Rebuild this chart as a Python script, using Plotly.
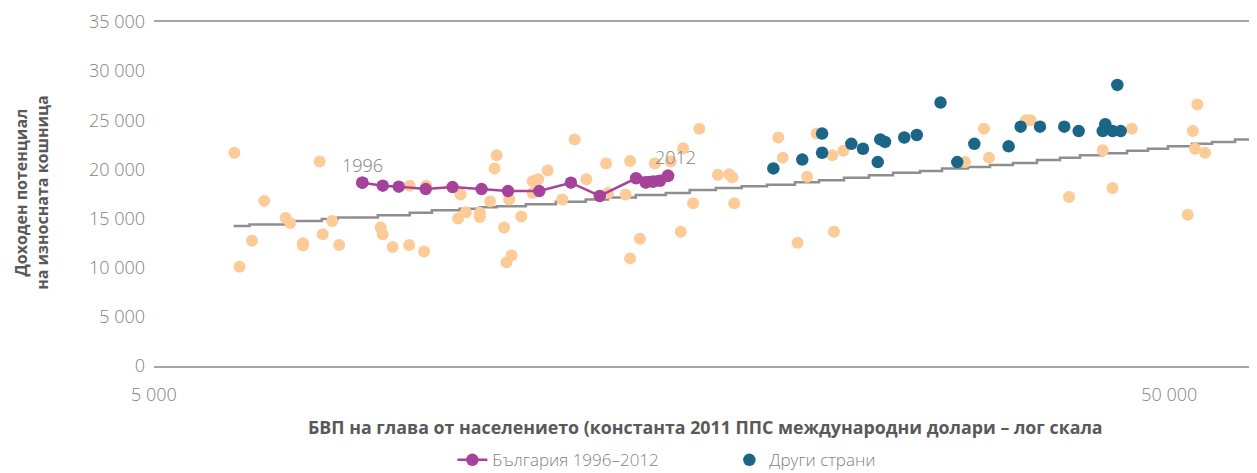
import math
import plotly.graph_objects as go

# ---- data ----
# Other countries (light orange, no legend entry): GDP per capita, export-basket income potential
other_gdp = [6000, 6070, 6245, 6420, 6740, 6810, 7010, 7010, 7280, 7330, 7490, 7610,
             8360, 8400, 8590, 8920, 8930, 9270, 9225, 10020, 9965, 10140, 10470, 10470,
             10715, 10875, 10825, 11190, 11060, 11120, 11250, 11500, 11800, 11950, 11800,
             12210, 12980, 12620, 13330, 13940, 14000, 14570, 14720, 15050, 14720, 15570,
             16140, 16600, 16510, 16980, 17220, 17960, 18430, 18560, 18640, 20600, 20810,
             21520, 21990, 22470, 23280, 23870, 23370, 31460, 32840, 33220, 36120, 36510,
             39830, 42990, 43950, 45920, 52130, 52730, 53280, 53000, 54220]
other_val = [21700, 10100, 12750, 16800, 15050, 14550, 12500, 12250, 20800, 13400, 14750, 12300,
             14100, 13400, 12100, 12300, 18350, 18350, 11650, 17450, 15000, 15650, 15600, 15150,
             16750, 21450, 20100, 16950, 14100, 10550, 11250, 15200, 18800, 19000, 17600,
             19900, 23050, 16950, 19000, 20600, 17600, 17450, 20850, 12950, 10950, 20600,
             20800, 22150, 13650, 16550, 24150, 19450, 19500, 19200, 16550, 23250, 21200,
             12550, 19250, 23650, 21450, 21900, 13650, 20750, 24150, 21200, 25000, 25000,
             17200, 21950, 18100, 24150, 15400, 23900, 26600, 22100, 21700]

# "Други страни" (dark blue)
peer_gdp = [20370, 21750, 22750, 22750, 24310, 24960, 25810, 25960, 26240, 27410, 28200,
            29760, 30910, 32130, 34730, 35690, 37290, 39400, 40710, 43240, 42990, 43970,
            44780, 44440]
peer_val = [20100, 21000, 23650, 21700, 22600, 22100, 20750, 23050, 22800, 23250, 23500,
            26800, 20750, 22600, 22350, 24350, 24350, 24350, 23900, 24600, 23900, 23900,
            23900, 28600]

# Bulgaria 1996-2012
bg_years = list(range(1996, 2013))
bg_gdp = [8020, 8020, 8400, 8710, 9260, 9840, 10510, 11160, 11980, 12870, 13740,
          14920, 16040, 15250, 15500, 15750, 16040]
bg_val = [18650, 18650, 18350, 18250, 18000, 18200, 18000, 17800, 17800, 18650, 17300,
          19100, 19350, 18650, 18750, 18850, 19350]

# Expected income potential (grey step line)
fit_gdp = [5990, 6210, 6730, 7315, 7585, 8305, 8930, 9390, 10000, 10470, 10880, 11620,
           12440, 13310, 14000, 14910, 15960, 16850, 17880, 18960, 20080, 21390, 22590,
           23910, 25300, 26720, 28410, 29860, 31670, 33290, 35070, 37040, 39020, 40830,
           43020, 45430, 47640, 49850, 52640, 55090, 58040, 61000]
fit_val = [14250, 14400, 14750, 14950, 15100, 15350, 15600, 15850, 16000, 16150, 16250,
           16450, 16700, 16950, 17150, 17400, 17600, 17900, 18100, 18300, 18450, 18700,
           18900, 19150, 19400, 19650, 19850, 20100, 20250, 20450, 20650, 20950, 21200,
           21450, 21650, 21900, 22100, 22350, 22600, 22800, 23050, 23250]

y_ticks = [0, 5000, 10000, 15000, 20000, 25000, 30000, 35000]
x_ticks = [5000, 50000]
x_min, x_max = 5000, 61000

ORANGE = "#FCCB97"
BLUE = "#1B6587"
PURPLE = "#A5439A"
GREY_LINE = "#8E8E8E"
AXIS = "#A6A6A6"
TXT = "#7F7F7F"
TITLE = "#595959"
FONT = "Open Sans"

fig = go.Figure()
fig.add_trace(go.Scatter(x=fit_gdp, y=fit_val, mode="lines", line=dict(color=GREY_LINE, width=2.5, shape="hv"),
                         showlegend=False, hoverinfo="skip"))
fig.add_trace(go.Scatter(x=other_gdp, y=other_val, mode="markers",
                         marker=dict(color=ORANGE, size=12), showlegend=False))
fig.add_trace(go.Scatter(x=peer_gdp, y=peer_val, mode="markers", name="Други страни",
                         marker=dict(color=BLUE, size=12.5), legendrank=2))
fig.add_trace(go.Scatter(x=bg_gdp, y=bg_val, mode="lines+markers", name="България 1996–2012",
                         line=dict(color=PURPLE, width=2.5), marker=dict(color=PURPLE, size=12.5),
                         legendrank=1))

fig.add_annotation(x=math.log10(bg_gdp[0]), y=bg_val[0], text=str(bg_years[0]), showarrow=False,
                   yshift=18, font=dict(family=FONT, size=18, color=TXT, weight=300))
fig.add_annotation(x=math.log10(bg_gdp[-1]), y=bg_val[-1], text=str(bg_years[-1]), showarrow=False,
                   xshift=8, yshift=19, font=dict(family=FONT, size=18, color=TXT, weight=300))

fig.add_annotation(xref="paper", yref="paper", x=0.5, y=-0.178, yanchor="middle",
                   text="БВП на глава от населението (константа 2011 ППС международни долари – лог скала",
                   showarrow=False, font=dict(family=FONT, size=17.8, color=TITLE, weight="bold"))
fig.add_annotation(xref="paper", yref="paper", x=-0.111, y=0.505, xanchor="center", yanchor="middle",
                   textangle=-90, text="Доходен потенциал<br>на износната кошница",
                   showarrow=False, font=dict(family=FONT, size=16, color=TITLE, weight="bold"))

# The page body adds an 8px offset, so the figure is sized 8px smaller and margins shifted
fig.update_layout(
    width=1249, height=465,
    margin=dict(l=146, r=0, t=14, b=107, autoexpand=False),
    paper_bgcolor="white", plot_bgcolor="white",
    separators=". ",
    font=dict(family=FONT, color=TXT),
    xaxis=dict(type="log", range=[math.log10(x_min), math.log10(x_max)],
               tickvals=x_ticks, tickformat=",d", showgrid=False, zeroline=False,
               showline=True, mirror=True, linecolor=AXIS, linewidth=1.5, ticks="",
               ticklabelstandoff=12, automargin=False,
               tickfont=dict(family=FONT, size=18, color=TXT, weight=300)),
    yaxis=dict(range=[0, 35000], tickvals=y_ticks, tickformat=",d", showgrid=False,
               zeroline=False, showline=False, ticks="", ticklabelstandoff=8, automargin=False,
               tickfont=dict(family=FONT, size=18, color=TXT, weight=300)),
    legend=dict(orientation="h", x=0.2705, xanchor="left", y=-0.274, yanchor="middle",
                font=dict(family=FONT, size=17, color=TXT, weight=300),
                entrywidth=232, entrywidthmode="pixels",
                bgcolor="rgba(0,0,0,0)"),
    hovermode=False,
)

fig.write_html("out.html")
